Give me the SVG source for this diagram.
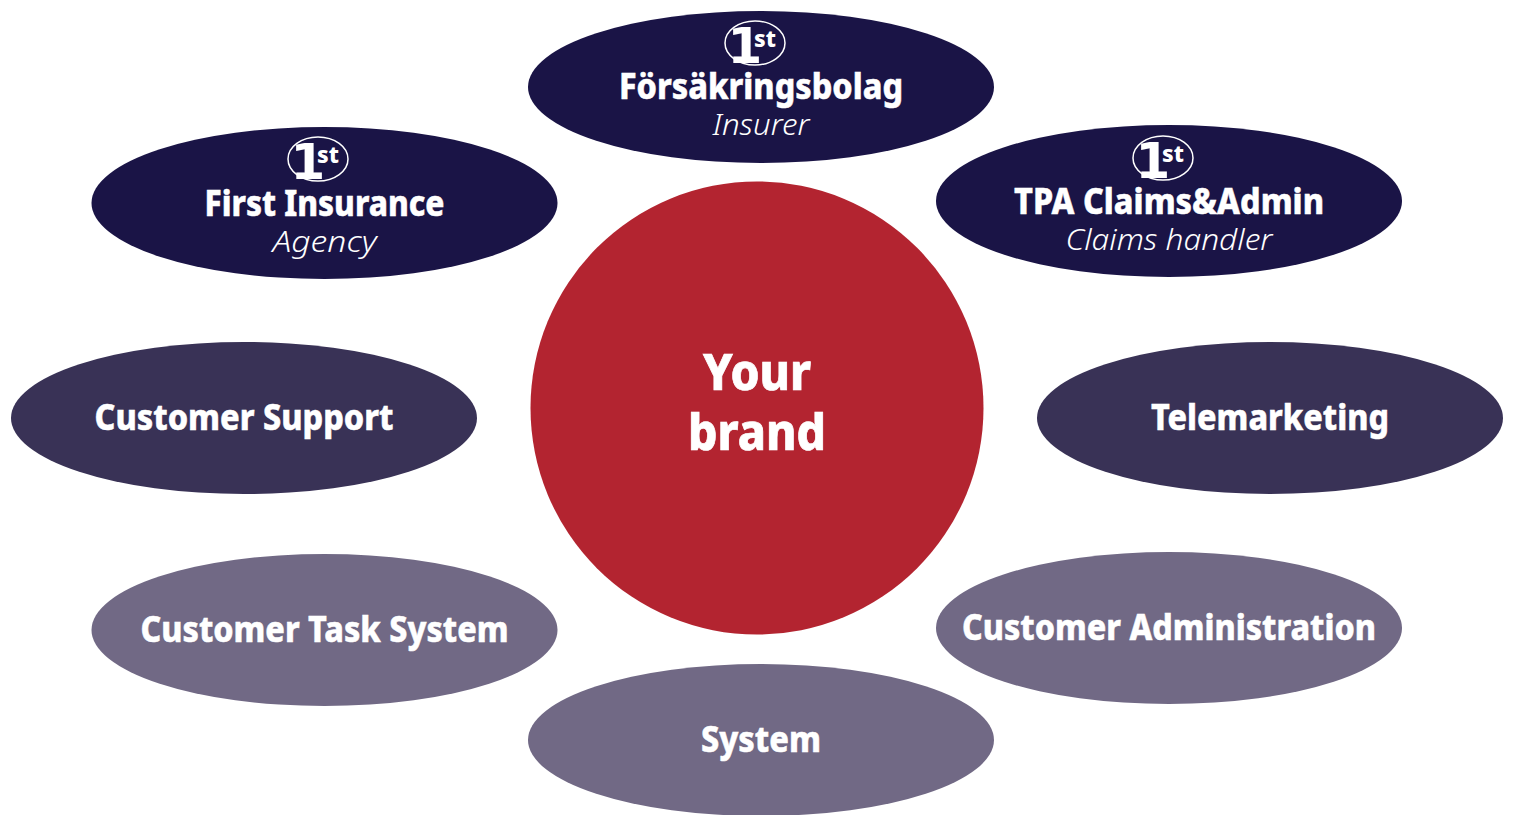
<svg xmlns="http://www.w3.org/2000/svg" width="1515" height="815" viewBox="0 0 1515 815">
<style>
.dark{fill:#1a1446}.mid{fill:#393256}.light{fill:#716985}
.t{font-family:"Noto Sans","Open Sans","Liberation Sans",sans-serif;font-weight:800;fill:#fff;stroke:#fff;stroke-width:.5;text-anchor:middle;font-size:35px}
.s{font-family:"Noto Sans","Open Sans","Liberation Sans",sans-serif;font-style:italic;font-weight:300;fill:#fff;text-anchor:middle;font-size:29px}
.b{font-family:"Noto Sans","Open Sans","Liberation Sans",sans-serif;font-weight:800;fill:#fff;stroke:#fff;stroke-width:.7;text-anchor:middle;font-size:50px}
.r{fill:none;stroke:#fff;stroke-width:1.5}
.one{font-family:"DejaVu Sans","Liberation Sans",sans-serif;font-weight:700;fill:#fff;font-size:50px;text-anchor:middle}
.st{font-family:"Noto Sans","Open Sans",sans-serif;font-weight:800;fill:#fff;font-size:23px;text-anchor:middle}
</style>
<defs>
<g id="badge"><ellipse class="r" cx="0" cy="0" rx="30" ry="22"/><text class="one" x="-10" y="20">1</text><text class="st" x="10" y="4">st</text></g>
</defs>
<g id="connectors"/>
<g id="brand"><circle cx="757" cy="408" r="226.500" fill="#b32430"/><text class="b" x="757" y="390" textLength="108" lengthAdjust="spacingAndGlyphs">Your</text><text class="b" x="757" y="450" textLength="138" lengthAdjust="spacingAndGlyphs">brand</text></g>
<g id="insurer"><ellipse class="dark" cx="761" cy="87" rx="233" ry="76"/><use href="#badge" x="755" y="43"/><text class="t" x="761" y="99" textLength="284" lengthAdjust="spacingAndGlyphs">Försäkringsbolag</text><text class="s" x="761" y="135" textLength="97" lengthAdjust="spacingAndGlyphs">Insurer</text></g>
<g id="agency"><ellipse class="dark" cx="324.500" cy="203" rx="233" ry="76"/><use href="#badge" x="318" y="159"/><text class="t" x="324.500" y="216" textLength="240" lengthAdjust="spacingAndGlyphs">First Insurance</text><text class="s" x="324.500" y="252" textLength="104" lengthAdjust="spacingAndGlyphs">Agency</text></g>
<g id="tpa"><ellipse class="dark" cx="1169" cy="201" rx="233" ry="76"/><use href="#badge" x="1163" y="158"/><text class="t" x="1169" y="214" textLength="310" lengthAdjust="spacingAndGlyphs">TPA Claims&amp;Admin</text><text class="s" x="1169" y="250" textLength="207" lengthAdjust="spacingAndGlyphs">Claims handler</text></g>
<g id="support"><ellipse class="mid" cx="244" cy="418" rx="233" ry="76"/><text class="t" x="244" y="430" textLength="299" lengthAdjust="spacingAndGlyphs">Customer Support</text></g>
<g id="telemarketing"><ellipse class="mid" cx="1270" cy="418" rx="233" ry="76"/><text class="t" x="1270" y="430" textLength="238" lengthAdjust="spacingAndGlyphs">Telemarketing</text></g>
<g id="task"><ellipse class="light" cx="324.500" cy="630" rx="233" ry="76"/><text class="t" x="324.500" y="642" textLength="368" lengthAdjust="spacingAndGlyphs">Customer Task System</text></g>
<g id="admin"><ellipse class="light" cx="1169" cy="628" rx="233" ry="76"/><text class="t" x="1169" y="640" textLength="414" lengthAdjust="spacingAndGlyphs">Customer Administration</text></g>
<g id="system"><ellipse class="light" cx="761" cy="740" rx="233" ry="76"/><text class="t" x="761" y="752" textLength="120" lengthAdjust="spacingAndGlyphs">System</text></g>
</svg>
